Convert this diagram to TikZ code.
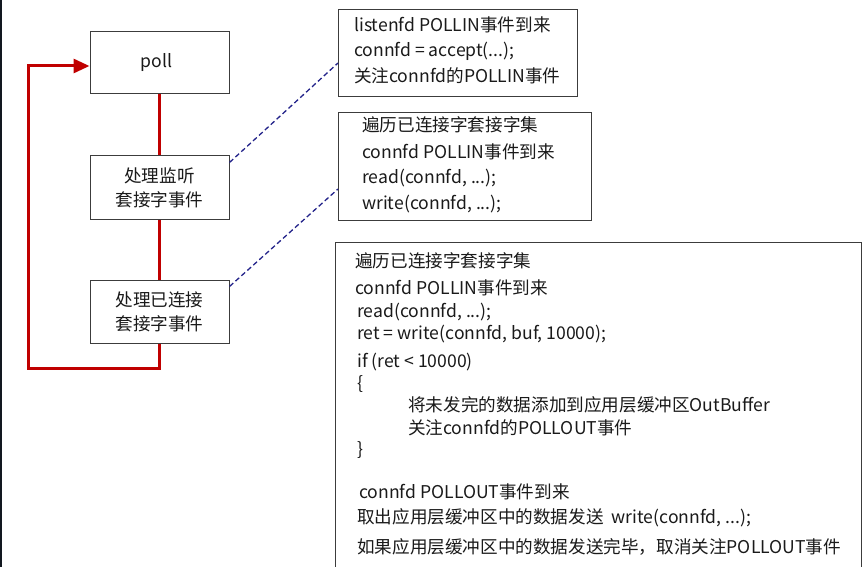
\documentclass[tikz,border=0pt]{standalone}
\usepackage{fontspec}
\setmainfont{Noto Sans CJK SC}
\usetikzlibrary{arrows.meta}

\definecolor{flowred}{HTML}{C00000}
\definecolor{linkblue}{HTML}{23238A}
\definecolor{boxgray}{HTML}{3C3C3C}
\definecolor{textblack}{HTML}{1A1A1A}
\definecolor{edgedark}{HTML}{121820}

\begin{document}
\begin{tikzpicture}[x=1pt, y=-1pt,
    box/.style={draw=boxgray, line width=1pt, fill=white, inner sep=0pt},
    stepbox/.style={box, minimum width=139pt, minimum height=63pt, align=center,
        text=textblack, font=\fontsize{17.6}{24}\selectfont},
    flow/.style={draw=flowred, line width=3pt},
    link/.style={draw=linkblue, line width=1.3pt, dash pattern=on 5pt off 3pt},
    codeline/.style={anchor=base west, inner sep=0pt, text=textblack,
        font=\fontsize{17.6}{20}\selectfont}]
    \useasboundingbox (0,0) rectangle (868,567);
    % 左侧边缘
    \fill[edgedark] (0,0) rectangle (2,567);

    % 流程框
    \node[stepbox, minimum height=62pt] (poll) at (159.5,63) {poll\hspace{6pt}};
    \node[stepbox] (handlelisten) at (159.5,187.5) {处理监听\\套接字事件};
    \node[stepbox] (handleconn) at (159.5,311.5) {处理已连接\\套接字事件};

    % 说明框
    \node[box, minimum width=239pt, minimum height=87pt, anchor=north west] (listenbox) at (338,9) {};
    \node[box, minimum width=253pt, minimum height=108pt, anchor=north west] (readbox) at (338,112) {};
    \node[box, minimum width=526pt, minimum height=340pt, anchor=north west] (writebox) at (335,242) {};

    % 红色主循环
    \draw[flow] (poll) -- (handlelisten);
    \draw[flow] (handlelisten) -- (handleconn);
    \coordinate (loopcorner) at (28,368);
    \draw[flow, -{Triangle[length=16pt, width=14pt]}] (handleconn.south) |- (loopcorner)
        |- ([yshift=-3pt]poll.west);

    % 虚线连到说明框
    \draw[link] ([yshift=-7pt]handlelisten.north east) -- ([yshift=-54pt]listenbox.north west);
    \draw[link] ([yshift=-7pt]handleconn.north east) -- ([yshift=-77pt]readbox.north west);

    % listenfd
    \foreach \y/\txt [count=\i] in {32/{listenfd POLLIN事件到来},
        57/{connfd = accept(...);}, 83/{关注connfd的POLLIN事件}}
        \node[codeline] (listen\i) at (354,\y) {\txt};

    % 已连接字
    \foreach \y/\txt [count=\i] in {132/{遍历已连接字套接字集}, 159/{connfd POLLIN事件到来},
        184/{read(connfd, ...);}, 209/{write(connfd, ...);}}
        \node[codeline] (read\i) at (362,\y) {\txt};

    % 带OutBuffer的写
    \foreach \x/\y/\txt [count=\i] in {355/267/{遍历已连接字套接字集},
        355/294/{connfd POLLIN事件到来},
        357/317/{read(connfd, ...);},
        357/339/{ret = write(connfd, buf, 10000);},
        357/367/{if (ret < 10000)},
        357/389/{\{},
        408/411/{将未发完的数据添加到应用层缓冲区OutBuffer},
        408/434/{关注connfd的POLLOUT事件},
        357/455/{\}},
        359/498/{connfd POLLOUT事件到来},
        357/523/{取出应用层缓冲区中的数据发送\hspace{8pt}write(connfd, ...);},
        357/553/{如果应用层缓冲区中的数据发送完毕，取消关注POLLOUT事件}}
        \node[codeline] (write\i) at (\x,\y) {\txt};
\end{tikzpicture}
\end{document}
